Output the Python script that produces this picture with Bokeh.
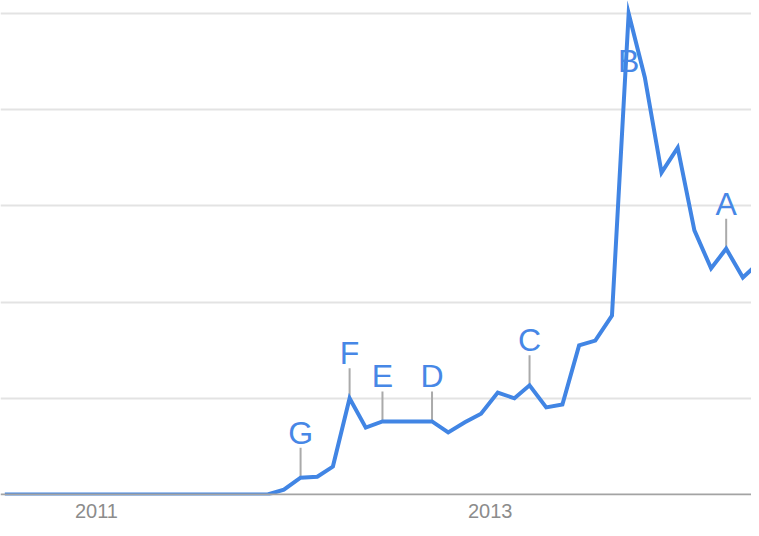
import pandas as pd
from bokeh.plotting import figure
from bokeh.models import ColumnDataSource, FixedTicker, DatetimeTickFormatter, Span, Range1d
from bokeh.core.properties import value
from bokeh.embed import file_html
from bokeh.resources import INLINE

# ---- data -------------------------------------------------------------
months = list(pd.date_range("2010-07-01", "2014-05-01", freq="MS") + pd.Timedelta(days=14))
interest = [
    0, 0, 0, 0, 0, 0,            # Jul-Dec 2010
    0, 0, 0, 0, 0, 0,            # Jan-Jun 2011
    0, 0, 0, 0, 0, 1,            # Jul-Dec 2011
    3.5, 3.7, 5.8, 20, 13.9, 15.2,   # Jan-Jun 2012
    15.2, 15.2, 15.2, 12.9, 15.0, 16.8,  # Jul-Dec 2012
    21.2, 20.0, 22.7, 18.1, 18.7, 31.0,  # Jan-Jun 2013
    32.0, 37.2, 100, 86.7, 66.9, 72.1,   # Jul-Dec 2013
    54.9, 47.0, 51.1, 45.1, 48.2,        # Jan-May 2014
]
ann_letters = ["G", "F", "E", "D", "C", "A"]
ann_months = ["2012-01", "2012-04", "2012-06", "2012-09", "2013-03", "2014-03"]
peak_letter = "B"
peak_month = "2013-09"
year_ticks = ["2011-01-01", "2013-01-01"]
grid_values = [20, 40, 60, 80, 100]

# ---- styling ----------------------------------------------------------
LINE_BLUE = "#4185e4"
LETTER_BLUE = "#4787e6"
STEM_GREY = "#aaaaaa"
FONT = "Liberation Sans"

W, H = 751, 520
y_start, y_end = -0.21, 102.70
frame_h = 495
px_per_unit = frame_h / (y_end - y_start)
stem_px = 30

lookup = {m.strftime("%Y-%m"): (m, v) for m, v in zip(months, interest)}

src = ColumnDataSource(dict(x=months, y=interest))

ann_x = [lookup[m][0] for m in ann_months]
ann_y = [lookup[m][1] for m in ann_months]
ann_top = [v + stem_px / px_per_unit for v in ann_y]
ann_src = ColumnDataSource(dict(x=ann_x, y=ann_y, top=ann_top, t=ann_letters))

pk_x, pk_y = lookup[peak_month]
pk_src = ColumnDataSource(dict(x=[pk_x], y=[pk_y], t=[peak_letter]))

p = figure(width=W, height=H, x_axis_type="datetime",
           x_range=Range1d(pd.Timestamp("2010-07-07"), pd.Timestamp("2014-05-01")),
           y_range=Range1d(y_start, y_end),
           output_backend="svg", toolbar_location=None,
           min_border_left=0, min_border_right=0, min_border_top=0, min_border_bottom=0)
p.outline_line_color = None
p.background_fill_color = "white"
p.border_fill_color = "white"

p.yaxis.visible = False
p.yaxis.ticker = FixedTicker(ticks=grid_values)
p.ygrid.grid_line_color = "#e3e3e3"
p.ygrid.grid_line_width = 2
p.xgrid.visible = False

p.xaxis.ticker = FixedTicker(ticks=[pd.Timestamp(t).value / 1e6 for t in year_ticks])
p.xaxis.formatter = DatetimeTickFormatter(years="%Y", months="%Y", days="%Y", hours="%Y",
                                          minutes="%Y", seconds="%Y", milliseconds="%Y")
p.xaxis.axis_line_color = None
p.xaxis.major_tick_line_color = None
p.xaxis.minor_tick_line_color = None
p.xaxis.major_label_text_font = FONT
p.xaxis.major_label_text_font_size = "20px"
p.xaxis.major_label_text_color = "#8c8c8c"
p.xaxis.major_label_text_line_height = 0.7
p.xaxis.major_label_standoff = 2

p.add_layout(Span(location=0, dimension="width", line_color="#a3a3a3", line_width=2))

p.segment(x0="x", y0="y", x1="x", y1="top", source=ann_src, line_color=STEM_GREY, line_width=2)

p.line(x="x", y="y", source=src, line_color=LINE_BLUE, line_width=4, line_join="miter")

p.text(x="x", y="top", text="t", source=ann_src, text_align="center", text_baseline="alphabetic",
       y_offset=-15, text_font=value(FONT), text_font_size="32px", text_color=LETTER_BLUE)
p.text(x="x", y="y", text="t", source=pk_src, text_align="center", text_baseline="alphabetic",
       y_offset=48, text_font=value(FONT), text_font_size="32px", text_color=LETTER_BLUE)

open("out.html", "w").write(file_html(p, INLINE))
